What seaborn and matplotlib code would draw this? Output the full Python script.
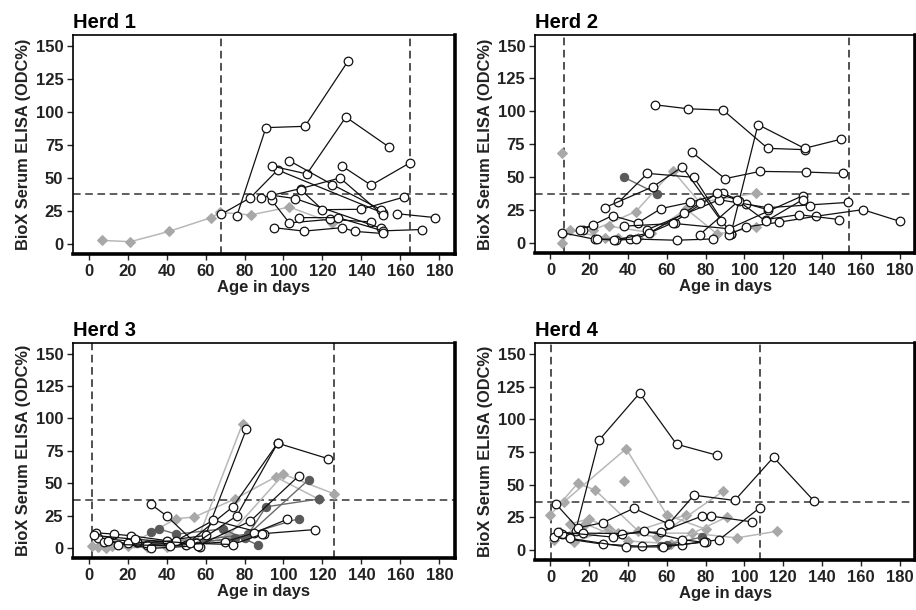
import numpy as np
import pandas as pd
import matplotlib
matplotlib.use("Agg")
import matplotlib.pyplot as plt
import seaborn as sns

sns.set_style("white")
plt.rcParams['font.family'] = ['Liberation Sans', 'DejaVu Sans']

# ---- data: (ages, ODC%) per animal ----
herd_names = ["Herd 1", "Herd 2", "Herd 3", "Herd 4"]
cutoff = [37.5, 37.5, 37, 37]
period_start = [68, 7, 2, 0.5]
period_end = [165, 154, 126, 108]

herd1_open = [
    ([76, 91, 111, 133], [21, 88, 89, 138]),
    ([68, 83, 97, 151], [22.5, 35, 56, 23.5]),
    ([94, 112, 132, 154], [59, 53, 96, 73.5]),
    ([103, 125, 150], [63, 45, 26]),
    ([88.5, 109, 129, 151], [35, 42, 50, 22]),
    ([130, 145, 165], [59, 44.5, 61.5]),
    ([94, 103, 124, 145], [33, 16, 18.7, 16.7]),
    ([93.6, 106, 150], [37, 34.4, 12]),
    ([108, 128, 151, 171], [20, 20, 10, 11]),
    ([109, 120, 140, 162], [41, 26, 26.3, 35.6]),
    ([95, 110.6, 130, 136.5, 151], [12.4, 9.8, 12.4, 9.6, 8]),
    ([158, 178], [23, 20]),
]
herd1_gray = [
    ([6.7, 21.4, 41.3, 62.9, 67.4, 83.1, 103, 125], [2.8, 1.8, 9.6, 20, 24, 22, 28, 16]),
]
herd1_dark = []

herd2_open = [
    ([54, 71, 89, 112, 131], [105, 102, 101, 72, 71]),
    ([93, 107, 131, 150], [7, 90, 72, 79]),
    ([73, 90, 108, 132, 151], [69, 49, 54.5, 54, 53]),
    ([35, 50, 74, 93], [31, 53, 50, 7]),
    ([28, 53, 68, 88], [27, 43, 58, 17]),
    ([6, 23, 41, 65, 84], [8, 3, 3.3, 2.3, 3.3]),
    ([17, 32, 45, 57, 72, 89, 101, 112], [10.4, 21, 15.4, 26.3, 31, 38, 30, 25.5]),
    ([92, 101, 118, 137, 161, 180], [6.6, 12.4, 16, 20.5, 25.5, 16.7]),
    ([111, 128, 149], [18, 21.7, 18]),
    ([38, 64, 92, 130], [13, 15, 11, 36]),
    ([50, 87, 112, 153.5], [10.4, 33, 27, 31]),
    ([77, 97, 111, 130, 134], [6.6, 32, 16.7, 33, 28]),
    ([34, 44, 63, 86, 96], [2.3, 3.3, 15.4, 38, 33]),
    ([24, 33, 51, 69, 77], [3.3, 2.3, 7.8, 23, 30.6]),
    ([15, 22], [10.4, 14]),
]
herd2_gray = [
    ([6], [68.4]),
    ([6, 10, 28, 35, 45], [0, 10, 4, 4, 4]),
    ([22, 44, 63, 77, 106], [10, 24, 55, 31, 38]),
    ([30, 52, 70, 86, 106], [13, 8, 26, 7, 12]),
]
herd2_dark = [
    ([38, 55], [50, 37.5]),
]

herd3_open = [
    ([4, 13, 22, 40, 60, 81], [12, 11, 9.7, 6, 10, 92]),
    ([32, 40, 57], [34, 25, 1]),
    ([5, 25, 50, 74, 97, 123], [8, 5, 3, 32, 81, 69]),
    ([8, 30, 55, 76, 97], [5, 3, 4, 25, 81]),
    ([10, 32, 56, 83, 108], [6, 0, 2, 21, 56]),
    ([20, 45, 64, 90, 116], [4, 6, 21.6, 11.4, 14.5]),
    ([15, 42, 70, 85, 102], [3, 2, 5, 12, 22.4]),
    ([3, 24, 52, 74, 89], [10, 7, 4, 3, 11]),
]
herd3_gray = [
    ([2, 9, 30, 55, 79], [2, 0, 1, 3, 96]),
    ([5, 20, 45, 54, 75, 96, 118], [1, 2, 23, 24, 38, 55, 38]),
    ([12, 40, 72, 100, 126], [2, 1, 10, 57, 42]),
]
herd3_dark = [
    ([32, 36, 45, 69, 87], [13, 15, 11, 15, 2.5]),
    ([40, 60, 82, 91, 118], [6, 7, 11, 32, 38]),
    ([25, 55, 80, 113], [4, 5, 8, 53]),
    ([50, 75, 108], [3, 8, 23]),
]

herd4_open = [
    ([13, 25, 46, 65, 86], [15, 84, 120, 81, 72.5]),
    ([3, 14, 27, 43, 61], [35, 17, 21, 32, 20]),
    ([61, 74, 95, 115, 136], [20, 42, 38, 71, 37.4]),
    ([6, 17, 37, 57, 78, 83, 104], [12.7, 13, 12.7, 14, 26, 26, 21.6]),
    ([2, 27, 47, 68, 87, 108], [10, 4.6, 3, 4.3, 8, 32.5]),
    ([10, 39, 58, 80], [9, 2.5, 2.5, 6.4]),
    ([4, 32, 48, 68, 79], [14, 10, 15, 8, 6]),
]
herd4_gray = [
    ([7, 39, 60, 80], [37, 77.5, 27, 16]),
    ([0, 14, 23, 45, 70], [27, 51, 46, 15, 27]),
    ([38], [53]),
    ([5, 12, 30, 55, 89], [14, 6, 16, 10, 45]),
    ([10, 20, 35, 73, 96, 117], [20, 24, 13, 13, 9.4, 14.5]),
    ([2, 18, 40, 62, 91], [8, 20, 7, 5, 25.4]),
]
herd4_dark = [
    ([57, 60, 78], [3, 4, 10]),
]

x_ticks = [0, 20, 40, 60, 80, 100, 120, 140, 160, 180]
y_ticks = [0, 25, 50, 75, 100, 125, 150]

herds = [
    (herd1_open, herd1_gray, herd1_dark),
    (herd2_open, herd2_gray, herd2_dark),
    (herd3_open, herd3_gray, herd3_dark),
    (herd4_open, herd4_gray, herd4_dark),
]


def to_long(series):
    rows = []
    for i, (ages, vals) in enumerate(series):
        for a, v in zip(ages, vals):
            rows.append({"id": i, "age": a, "odc": v})
    return pd.DataFrame(rows, columns=["id", "age", "odc"])


fig = plt.figure(figsize=(9.16, 6.10), dpi=100)
rects = [
    [0.0797, 0.5836, 0.4170, 0.3590],
    [0.5840, 0.5850, 0.4150, 0.3577],
    [0.0797, 0.0850, 0.4170, 0.3525],
    [0.5840, 0.0820, 0.4150, 0.3550],
]

txt = "#222222"
for k, (open_s, gray_s, dark_s) in enumerate(herds):
    ax = fig.add_axes(rects[k])

    ax.axvline(period_start[k], color="#222222", ls=(0, (5, 3)), lw=1.1, zorder=1)
    ax.axvline(period_end[k], color="#222222", ls=(0, (5, 3)), lw=1.1, zorder=1)
    ax.axhline(cutoff[k], color="#333333", ls=(0, (5, 3)), lw=1.1, zorder=1)

    if gray_s:
        sns.lineplot(data=to_long(gray_s), x="age", y="odc", units="id", estimator=None,
                     color="#b8b8b8", lw=1.1, marker="D", markersize=4.8,
                     mfc="#a8a8a8", mec="#a8a8a8", ax=ax, legend=False, zorder=2)
    if dark_s:
        sns.lineplot(data=to_long(dark_s), x="age", y="odc", units="id", estimator=None,
                     color="#6a6a6a", lw=1.0, marker="o", markersize=6,
                     mfc="#5a5a5a", mec="#5a5a5a", ax=ax, legend=False, zorder=3)
    sns.lineplot(data=to_long(open_s), x="age", y="odc", units="id", estimator=None,
                 color="#111111", lw=0.9, marker="o", markersize=6.2,
                 mfc="white", mec="#111111", mew=0.9, ax=ax, legend=False, zorder=4)

    ax.set_xlim(-8, 188)
    ax.set_ylim(-7.5, 158)
    ax.set_xticks(x_ticks)
    ax.set_yticks(y_ticks)
    ax.tick_params(axis="both", direction="out", length=4, width=1, pad=3,
                   labelsize=12, colors=txt, left=True, bottom=True)
    for lab in ax.get_xticklabels() + ax.get_yticklabels():
        lab.set_fontweight("bold")
    ax.set_xlabel("Age in days", fontsize=12, fontweight="bold", color=txt, labelpad=1)
    ax.set_ylabel("BioX Serum ELISA (ODC%)", fontsize=11.8, fontweight="bold", color=txt, labelpad=3)
    ax.set_title(herd_names[k], loc="left", fontsize=14.5, fontweight="bold", color="black", pad=5)

    for side in ["left", "top"]:
        ax.spines[side].set_linewidth(1.2)
        ax.spines[side].set_color("black")
    for side in ["right", "bottom"]:
        ax.spines[side].set_linewidth(2.6)
        ax.spines[side].set_color("black")

fig.savefig("out.png", dpi=100)
